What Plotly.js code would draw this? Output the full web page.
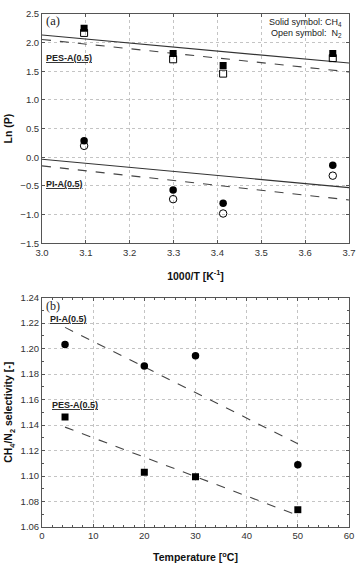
<!DOCTYPE html>
<html>
<head>
<meta charset="utf-8">
<script src="https://cdn.plot.ly/plotly-3.0.1.min.js"></script>
<style>
  html, body { margin: 0; padding: 0; background: #fff; }
  #chart { width: 356px; height: 565px; }
</style>
</head>
<body>
<div id="chart"></div>
<script>
// (a) Arrhenius plot: ln(P) against 1000/T
const invT = [3.096, 3.299, 3.413, 3.663];
const pesCH4 = [2.25, 1.81, 1.60, 1.81];
const pesN2  = [2.17, 1.71, 1.46, 1.73];
const piCH4  = [0.29, -0.57, -0.80, -0.14];
const piN2   = [0.20, -0.73, -0.98, -0.32];

// fitted trend lines across the full 1000/T range
const fitX = [3.0, 3.7];
const pesFitCH4 = [2.133, 1.644];
const pesFitN2  = [2.056, 1.49];
const piFitCH4  = [-0.033, -0.529];
const piFitN2   = [-0.15, -0.744];

// (b) CH4/N2 selectivity against temperature
const tempC = [4.5, 20, 30, 50];
const piSel  = [1.2033, 1.1863, 1.1945, 1.1089];
const pesSel = [1.1463, 1.1029, 1.0995, 1.0736];
const selFitX = [4.5, 50];
const piSelFit  = [1.2167, 1.1254];
const pesSelFit = [1.1384, 1.0691];

const FONT = 'Liberation Sans, Arial, sans-serif';
const AXIS_LINE = '#555';
const GRID = '#c4c4c4';

function pts(x, y, sym, xa, ya) {
  const open = sym.indexOf('open') >= 0;
  return {
    x: x, y: y, xaxis: xa, yaxis: ya, type: 'scatter', mode: 'markers',
    marker: {
      symbol: sym, size: sym.indexOf('square') >= 0 ? 7 : 7.5,
      color: '#000', line: {color: '#000', width: open ? 1 : 0}
    },
    showlegend: false, hoverinfo: 'skip'
  };
}
function fit(x, y, dash, xa, ya) {
  return {
    x: x, y: y, xaxis: xa, yaxis: ya, type: 'scatter', mode: 'lines',
    line: {color: dash ? '#444' : '#333', width: 1.1, dash: dash ? 'dash' : 'solid'},
    showlegend: false, hoverinfo: 'skip'
  };
}

const data = [
  fit(fitX, pesFitCH4, false, 'x', 'y'),
  fit(fitX, pesFitN2, true, 'x', 'y'),
  fit(fitX, piFitCH4, false, 'x', 'y'),
  fit(fitX, piFitN2, true, 'x', 'y'),
  pts(invT, pesCH4, 'square', 'x', 'y'),
  pts(invT, pesN2, 'square-open', 'x', 'y'),
  pts(invT, piCH4, 'circle', 'x', 'y'),
  pts(invT, piN2, 'circle-open', 'x', 'y'),
  fit(selFitX, piSelFit, true, 'x2', 'y2'),
  fit(selFitX, pesSelFit, true, 'x2', 'y2'),
  pts(tempC, piSel, 'circle', 'x2', 'y2'),
  pts(tempC, pesSel, 'square', 'x2', 'y2')
];

const tickFont = {family: FONT, size: 9.5, color: '#333'};
const titleFont = {family: FONT, size: 10.5, color: '#111', weight: 'bold'};

function axis(extra) {
  return Object.assign({
    showline: true, linecolor: AXIS_LINE, linewidth: 1, mirror: 'ticks',
    ticks: 'inside', ticklen: 3, tickcolor: AXIS_LINE,
    showgrid: true, gridcolor: GRID, griddash: 'dot', gridwidth: 1,
    zeroline: false, tickfont: tickFont, automargin: false
  }, extra);
}

const layout = {
  width: 356, height: 565,
  margin: {l: 42, r: 7, t: 14, b: 38},
  paper_bgcolor: '#fff', plot_bgcolor: '#fff',
  font: {family: FONT},
  xaxis: axis({
    domain: [0, 1], range: [3.0, 3.7], dtick: 0.1, tick0: 3.0, tickformat: '.1f',
    anchor: 'y',
    title: {text: '<b>1000/T [K<sup>-1</sup>]</b>', font: titleFont, standoff: 15}
  }),
  yaxis: axis({
    domain: [0.553, 1], range: [-1.5, 2.5], dtick: 0.5, tick0: -1.5, tickformat: '.1f',
    anchor: 'x',
    title: {text: '<b>Ln (P)</b>', font: titleFont, standoff: 5}
  }),
  xaxis2: axis({
    domain: [0, 1], range: [0, 60], dtick: 10, tick0: 0,
    anchor: 'y2',
    minor: {dtick: 2, ticks: 'inside', ticklen: 2, tickcolor: AXIS_LINE, showgrid: false},
    title: {text: '<b>Temperature [<sup>o</sup>C]</b>', font: titleFont, standoff: 13}
  }),
  yaxis2: axis({
    domain: [0, 0.447], range: [1.06, 1.24], dtick: 0.02, tick0: 1.06, tickformat: '.2f',
    anchor: 'x2',
    minor: {dtick: 0.01, ticks: 'inside', ticklen: 2, tickcolor: AXIS_LINE, showgrid: false},
    title: {text: '<b>CH<sub>4</sub>/N<sub>2</sub> selectivity [-]</b>', font: titleFont, standoff: 5}
  }),
  annotations: [
    {xref: 'x', yref: 'y', x: 3.005, y: 2.37, text: '(a)', showarrow: false, xanchor: 'left',
     font: {family: 'Liberation Serif, DejaVu Serif, serif', size: 12.5, color: '#222'}},
    {xref: 'paper', yref: 'y', x: 0.985, y: 2.35, text: 'Solid symbol: CH<sub>4</sub>', showarrow: false,
     xanchor: 'right', font: {family: FONT, size: 9, color: '#222'}},
    {xref: 'paper', yref: 'y', x: 0.985, y: 2.16, text: 'Open symbol:  N<sub>2</sub>', showarrow: false,
     xanchor: 'right', font: {family: FONT, size: 9, color: '#222'}},
    {xref: 'x', yref: 'y', x: 3.004, y: 1.74, text: '<b><u>PES-A(0.5)</u></b>', showarrow: false,
     xanchor: 'left', font: {family: FONT, size: 9, color: '#222'}},
    {xref: 'x', yref: 'y', x: 3.004, y: -0.47, text: '<b><u>PI-A(0.5)</u></b>', showarrow: false,
     xanchor: 'left', font: {family: FONT, size: 9, color: '#222'}},
    {xref: 'x2', yref: 'y2', x: 0.3, y: 1.2338, text: '(b)', showarrow: false, xanchor: 'left',
     font: {family: 'Liberation Serif, DejaVu Serif, serif', size: 12, color: '#222'}},
    {xref: 'x2', yref: 'y2', x: 1.1, y: 1.2236, text: '<b><u>PI-A(0.5)</u></b>', showarrow: false,
     xanchor: 'left', font: {family: FONT, size: 9, color: '#222'}},
    {xref: 'x2', yref: 'y2', x: 1.6, y: 1.156, text: '<b><u>PES-A(0.5)</u></b>', showarrow: false,
     xanchor: 'left', font: {family: FONT, size: 9, color: '#222'}}
  ]
};

Plotly.newPlot('chart', data, layout, {displayModeBar: false, staticPlot: true});
</script>
</body>
</html>
